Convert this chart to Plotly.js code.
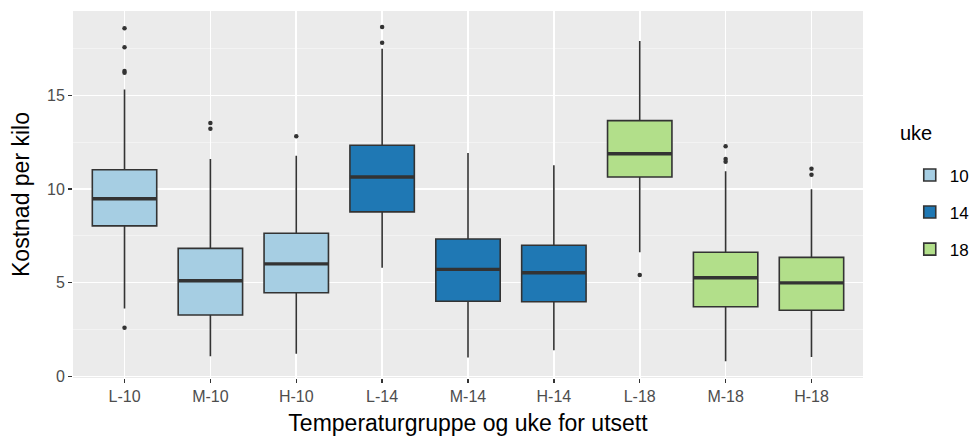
<!DOCTYPE html>
<html>
<head>
<meta charset="utf-8">
<script src="https://cdn.plot.ly/plotly-3.0.1.min.js"></script>
<style>
  html, body { margin: 0; padding: 0; background: #ffffff; }
  #chart { width: 973px; height: 436px; }
</style>
</head>
<body>
<div id="chart"></div>
<script>
// ---- data ----
const categories   = ['L-10', 'M-10', 'H-10', 'L-14', 'M-14', 'H-14', 'L-18', 'M-18', 'H-18'];
const ukeOfCat     = ['10', '10', '10', '14', '14', '14', '18', '18', '18'];
const lowerWhisker = [3.62, 1.07, 1.21, 5.80, 1.00, 1.39, 6.62, 0.80, 1.03];
const q1Values     = [8.03, 3.27, 4.46, 8.78, 4.01, 3.98, 10.64, 3.71, 3.53];
const medianValues = [9.48, 5.10, 6.00, 10.64, 5.71, 5.53, 11.88, 5.26, 4.99];
const q3Values     = [11.03, 6.83, 7.64, 12.33, 7.33, 7.00, 13.65, 6.62, 6.35];
const upperWhisker = [15.31, 11.60, 11.78, 17.49, 11.92, 11.26, 17.90, 10.94, 9.99];

const outlierCats   = ['L-10', 'L-10', 'L-10', 'L-10', 'L-10', 'M-10', 'M-10', 'H-10', 'L-14', 'L-14', 'L-18', 'M-18', 'M-18', 'M-18', 'H-18', 'H-18'];
const outlierValues = [18.58, 17.57, 16.30, 16.20, 2.59, 13.52, 13.22, 12.81, 18.65, 17.81, 5.41, 12.28, 11.60, 11.45, 11.08, 10.76];

const ukeLevels = ['10', '14', '18'];
const ukeColors = ['#A6CEE3', '#1F78B4', '#B2DF8A'];
const legendTitle = 'uke';

const yTickVals = [0, 5, 10, 15];

// ---- build traces ----
const boxWidth = 0.75;
const edgeColor = '#333333';
const traces = [];

ukeLevels.forEach((lvl, k) => {
  const idx = categories.map((c, i) => i).filter(i => ukeOfCat[i] === lvl);
  traces.push({
    type: 'box',
    name: lvl,
    legendgroup: lvl,
    x: idx,
    q1: idx.map(i => q1Values[i]),
    median: idx.map(i => medianValues[i]),
    q3: idx.map(i => q3Values[i]),
    lowerfence: idx.map(i => lowerWhisker[i]),
    upperfence: idx.map(i => upperWhisker[i]),
    width: boxWidth,
    whiskerwidth: 0,
    boxpoints: false,
    fillcolor: ukeColors[k],
    line: { color: edgeColor, width: 1.6 },
    hoverinfo: 'skip'
  });
});

// thicker median lines (ggplot style)
const medX = [], medY = [];
categories.forEach((c, i) => {
  medX.push(i - boxWidth / 2, i + boxWidth / 2, null);
  medY.push(medianValues[i], medianValues[i], null);
});
traces.push({
  type: 'scatter', mode: 'lines', x: medX, y: medY,
  line: { color: edgeColor, width: 3.4 },
  showlegend: false, hoverinfo: 'skip'
});

// outliers
traces.push({
  type: 'scatter', mode: 'markers',
  x: outlierCats.map(c => categories.indexOf(c)),
  y: outlierValues,
  marker: { color: edgeColor, size: 4.5 },
  showlegend: false, hoverinfo: 'skip'
});

const layout = {
  width: 973, height: 436,
  margin: { l: 73, r: 110, t: 11, b: 58 },
  paper_bgcolor: '#ffffff',
  plot_bgcolor: '#EBEBEB',
  font: { family: 'Liberation Sans, Arial, sans-serif', color: '#000000' },
  boxmode: 'overlay',
  showlegend: true,
  xaxis: {
    range: [-0.6, 8.6],
    tickmode: 'array',
    tickvals: categories.map((c, i) => i),
    ticktext: categories,
    ticks: 'outside', ticklen: 4, tickwidth: 1.5, tickcolor: edgeColor,
    tickfont: { size: 16, color: '#4D4D4D' },
    showgrid: true, gridcolor: '#ffffff', gridwidth: 1.6,
    zeroline: false, showline: false,
    title: { text: 'Temperaturgruppe og uke for utsett', font: { size: 23, color: '#000000' }, standoff: 12 },
    automargin: false
  },
  yaxis: {
    range: [-0.09, 19.5],
    tickmode: 'array',
    tickvals: yTickVals,
    ticktext: yTickVals.map(String),
    ticks: 'outside', ticklen: 4, tickwidth: 1.5, tickcolor: edgeColor,
    tickfont: { size: 16, color: '#4D4D4D' },
    showgrid: true, gridcolor: '#ffffff', gridwidth: 1.6,
    minor: { tickmode: 'array', tickvals: [2.5, 7.5, 12.5, 17.5], showgrid: true, gridcolor: '#F5F5F5', gridwidth: 0.8, ticks: '' },
    zeroline: false, showline: false,
    title: { text: 'Kostnad per kilo', font: { size: 23, color: '#000000' }, standoff: 10 },
    automargin: false
  },
  legend: {
    xref: 'container', yref: 'container',
    x: 0.935, xanchor: 'left',
    y: 0.639, yanchor: 'top',
    bgcolor: 'rgba(0,0,0,0)',
    font: { size: 17, color: '#000000' },
    tracegroupgap: 12,
    traceorder: 'grouped'
  },
  annotations: [{
    text: legendTitle, xref: 'paper', yref: 'paper',
    x: 1.044, y: 0.668, xanchor: 'left', yanchor: 'middle',
    showarrow: false, font: { size: 20, color: '#000000' }
  }]
};

Plotly.newPlot('chart', traces, layout, { staticPlot: true, displayModeBar: false });
</script>
</body>
</html>
